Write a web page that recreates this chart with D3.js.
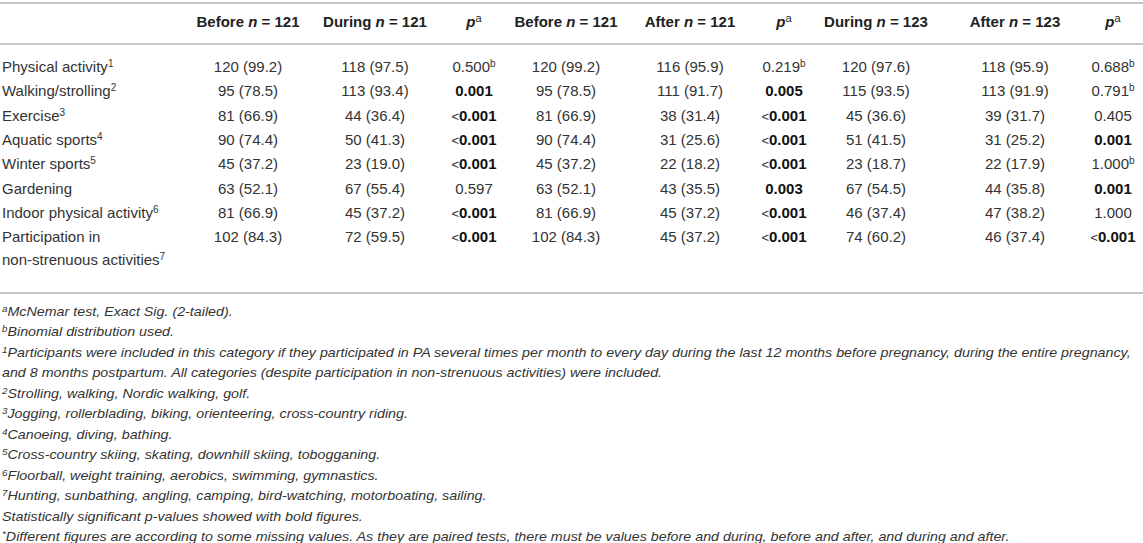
<!DOCTYPE html>
<html>
<head>
<meta charset="utf-8">
<script src="https://cdn.jsdelivr.net/npm/d3@7"></script>
<style>
  html, body { margin: 0; padding: 0; background: #fff; }
  svg { display: block; font-family: 'Liberation Sans', Arial, sans-serif; }
  .cell { font-size: 15px; fill: #333; }
  .head { font-size: 15px; fill: #222; font-weight: bold; }
  .note { font-size: 13px; fill: #333; font-style: italic; }
</style>
</head>
<body>
<svg id="table"></svg>
<script>
// rows
const categories = ['Physical activity', 'Walking/strolling', 'Exercise', 'Aquatic sports',
  'Winter sports', 'Gardening', 'Indoor physical activity', 'Participation in'];
const categoryNotes = ['1', '2', '3', '4', '5', '', '6', ''];
const categorySecondLine = 'non-strenuous activities';
const categorySecondNote = '7';

// counts and percentages
const beforeN121 = [120, 95, 81, 90, 45, 63, 81, 102];
const beforeN121Pct = [99.2, 78.5, 66.9, 74.4, 37.2, 52.1, 66.9, 84.3];
const duringN121 = [118, 113, 44, 50, 23, 67, 45, 72];
const duringN121Pct = [97.5, 93.4, 36.4, 41.3, 19.0, 55.4, 37.2, 59.5];
const afterN121 = [116, 111, 38, 31, 22, 43, 45, 45];
const afterN121Pct = [95.9, 91.7, 31.4, 25.6, 18.2, 35.5, 37.2, 37.2];
const duringN123 = [120, 115, 45, 51, 23, 67, 46, 74];
const duringN123Pct = [97.6, 93.5, 36.6, 41.5, 18.7, 54.5, 37.4, 60.2];
const afterN123 = [118, 113, 39, 31, 22, 44, 47, 46];
const afterN123Pct = [95.9, 91.9, 31.7, 25.2, 17.9, 35.8, 38.2, 37.4];

// p-values (b = binomial distribution used)
const pBeforeDuring = ['0.500', '0.001', '<0.001', '<0.001', '<0.001', '0.597', '<0.001', '<0.001'];
const pBeforeDuringNote = ['b', '', '', '', '', '', '', ''];
const pBeforeAfter = ['0.219', '0.005', '<0.001', '<0.001', '<0.001', '0.003', '<0.001', '<0.001'];
const pBeforeAfterNote = ['b', '', '', '', '', '', '', ''];
const pDuringAfter = ['0.688', '0.791', '0.405', '0.001', '1.000', '0.001', '1.000', '<0.001'];
const pDuringAfterNote = ['b', 'b', '', '', 'b', '', '', ''];

// column headers
const headers = [
  { word: 'Before', n: 121 }, { word: 'During', n: 121 }, { p: true },
  { word: 'Before', n: 121 }, { word: 'After', n: 121 }, { p: true },
  { word: 'During', n: 123 }, { word: 'After', n: 123 }, { p: true },
];

// footnotes
const footSups = ['a', 'b', '1', '', '2', '3', '4', '5', '6', '7', '', '*'];
const footTexts = [
  'McNemar test, Exact Sig. (2-tailed).',
  'Binomial distribution used.',
  'Participants were included in this category if they participated in PA several times per month to every day during the last 12 months before pregnancy, during the entire pregnancy,',
  'and 8 months postpartum. All categories (despite participation in non-strenuous activities) were included.',
  'Strolling, walking, Nordic walking, golf.',
  'Jogging, rollerblading, biking, orienteering, cross-country riding.',
  'Canoeing, diving, bathing.',
  'Cross-country skiing, skating, downhill skiing, tobogganing.',
  'Floorball, weight training, aerobics, swimming, gymnastics.',
  'Hunting, sunbathing, angling, camping, bird-watching, motorboating, sailing.',
  'Statistically significant p-values showed with bold figures.',
  'Different figures are according to some missing values. As they are paired tests, there must be values before and during, before and after, and during and after.',
];

const width = 1143;
const height = 543;
const svg = d3.select('#table').attr('width', width).attr('height', height);

const colKeys = d3.range(headers.length);
const x = d3.scaleOrdinal()
  .domain(colKeys)
  .range([248, 375, 474, 566, 690, 784, 876, 1015, 1113]);
const y = d3.scalePoint()
  .domain(categories)
  .range([67, 237.1]);
const footY = d3.scaleLinear()
  .domain([0, footTexts.length - 1])
  .range([312, 537]);

const rule = '#c6c6c6';
[3, 44, 293].forEach(yy => {
  svg.append('line')
    .attr('x1', 0).attr('x2', width)
    .attr('y1', yy).attr('y2', yy)
    .attr('stroke', rule).attr('stroke-width', 2);
});

function sup(text, s, size) {
  if (!s) return;
  text.append('tspan').attr('dy', -5).attr('font-size', size || 10).attr('font-weight', 'normal').text(s);
}

// header
headers.forEach((h, i) => {
  const t = svg.append('text')
    .attr('class', 'head')
    .attr('x', x(i)).attr('y', 27)
    .attr('text-anchor', 'middle');
  if (h.p) {
    t.append('tspan').attr('font-style', 'italic').text('p');
    sup(t, 'a', 11);
  } else {
    t.append('tspan').text(h.word + ' ');
    t.append('tspan').attr('font-style', 'italic').text('n');
    t.append('tspan').text(' = ' + h.n);
  }
});

// row labels
categories.forEach((c, i) => {
  const t = svg.append('text').attr('class', 'cell')
    .attr('x', 2).attr('y', y(c) + 5);
  t.append('tspan').text(c);
  sup(t, categoryNotes[i]);
});
const last = categories[categories.length - 1];
const t2 = svg.append('text').attr('class', 'cell')
  .attr('x', 2).attr('y', y(last) + 22.4 + 5);
t2.append('tspan').text(categorySecondLine);
sup(t2, categorySecondNote);

// value cells
const countCols = [
  [0, beforeN121, beforeN121Pct], [1, duringN121, duringN121Pct],
  [3, beforeN121, beforeN121Pct], [4, afterN121, afterN121Pct],
  [6, duringN123, duringN123Pct], [7, afterN123, afterN123Pct],
];
countCols.forEach(([col, n, pct]) => {
  svg.append('g').selectAll('text')
    .data(categories)
    .join('text')
      .attr('class', 'cell')
      .attr('x', x(col))
      .attr('y', d => y(d) + 5)
      .attr('text-anchor', 'middle')
      .text((d, i) => `${n[i]} (${pct[i].toFixed(1)})`);
});

const pCols = [
  [2, pBeforeDuring, pBeforeDuringNote],
  [5, pBeforeAfter, pBeforeAfterNote],
  [8, pDuringAfter, pDuringAfterNote],
];
pCols.forEach(([col, vals, notes]) => {
  categories.forEach((c, i) => {
    const v = vals[i];
    const num = +v.replace('<', '');
    const bold = num < 0.05;
    const t = svg.append('text').attr('class', 'cell')
      .attr('x', x(col)).attr('y', y(c) + 5)
      .attr('text-anchor', 'middle');
    if (v.startsWith('<')) {
      t.append('tspan').attr('font-size', 13).text('<');
    }
    t.append('tspan')
      .attr('font-weight', bold ? 'bold' : 'normal')
      .attr('fill', bold ? '#111' : '#333')
      .text(v.replace('<', ''));
    sup(t, notes[i]);
  });
});

// footnotes
const foot = svg.append('g').attr('class', 'note');
footTexts.forEach((txt, i) => {
  const t = foot.append('text').attr('x', 2).attr('y', footY(i) + 4);
  if (footSups[i]) {
    t.append('tspan').attr('font-size', 9).attr('dy', -4).text(footSups[i]);
    t.append('tspan').attr('dy', 4).text(txt);
  } else {
    t.append('tspan').text(txt);
  }
});
// the source uses a condensed face: squeeze the block so the long line fits
const longest = foot.selectAll('text').nodes()[2];
const k = 1130 / longest.getComputedTextLength();
foot.attr('transform', `translate(2,0) scale(${k},1) translate(-2,0)`);
</script>
</body>
</html>
